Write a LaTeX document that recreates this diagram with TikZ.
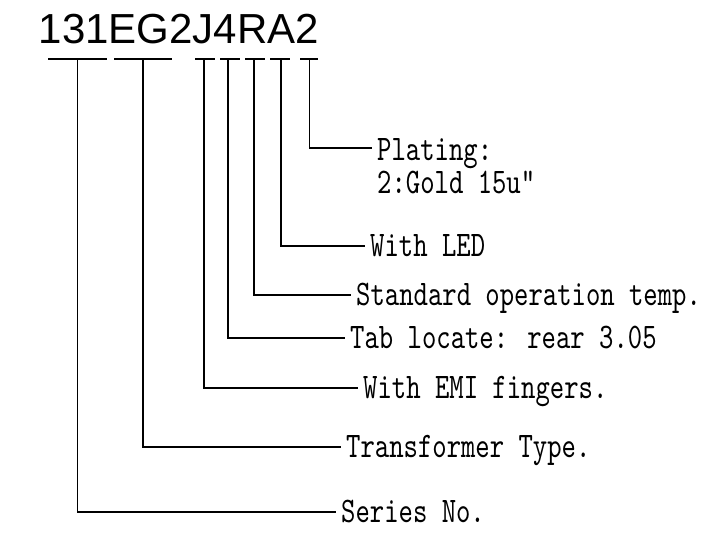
\documentclass[tikz,border=0pt]{standalone}
\usepackage{fontspec}
\newfontfamily\titlefont{Liberation Sans}
\newfontfamily\labfont{lmmono10-regular}[Extension=.otf, FakeStretch=0.76]
\begin{document}
\begin{tikzpicture}[x=1pt,y=-1pt,
  conn/.style={line width=1.8pt, black},
  lab/.style={anchor=west, inner sep=0pt, text height=24pt, text depth=4pt,
    font=\labfont\fontsize{36}{40}\selectfont},
  ttl/.style={anchor=base west, inner sep=0pt, font=\titlefont\fontsize{42}{50}\selectfont}]
\useasboundingbox (0,0) rectangle (720,541);

\node[ttl] (title) at (38.5,43) {131EG2J4RA2};

% underline bars
\foreach \l/\r in {48/107, 114/172, 195/215, 220/240, 245/265, 270/290, 300/318}
  \draw[conn] (\l,59) -- (\r,59);

% stem coordinates
\coordinate (s1) at (77.5,59);
\coordinate (s2) at (143,59);
\coordinate (s3) at (204,59);
\coordinate (s4) at (228,59);
\coordinate (s5) at (254,59);
\coordinate (s6) at (281,59);
\coordinate (s7) at (309.5,59);

% labels
\node[lab, text height=26pt, text depth=2pt] (plating) at (377,148) {Plating:};
\node[lab, anchor=base west, text height=18pt] (gold) at (377,193) {2:Gold 15u"};
\node[lab] (led) at (370,246) {With LED};
\node[lab] (std) at (356,295) {Standard operation temp.};
\node[lab] (tab) at (350,338) {Tab locate: rear 3.05};
\node[lab] (emi) at (363,388) {With EMI fingers.};
\node[lab] (trans) at (346,447) {Transformer Type.};
\node[lab] (series) at (341,512) {Series No.};

% connectors
\draw[conn] (s7) |- ([xshift=-5pt]plating.west);
\draw[conn] (s6) |- ([xshift=-5pt]led.west);
\draw[conn] (s5) |- ([xshift=-5pt]std.west);
\draw[conn] (s4) |- ([xshift=-5pt]tab.west);
\draw[conn] (s3) |- ([xshift=-5pt]emi.west);
\draw[conn] (s2) |- ([xshift=-5pt]trans.west);
\draw[conn] (s1) |- ([xshift=-5pt]series.west);
\end{tikzpicture}
\end{document}
